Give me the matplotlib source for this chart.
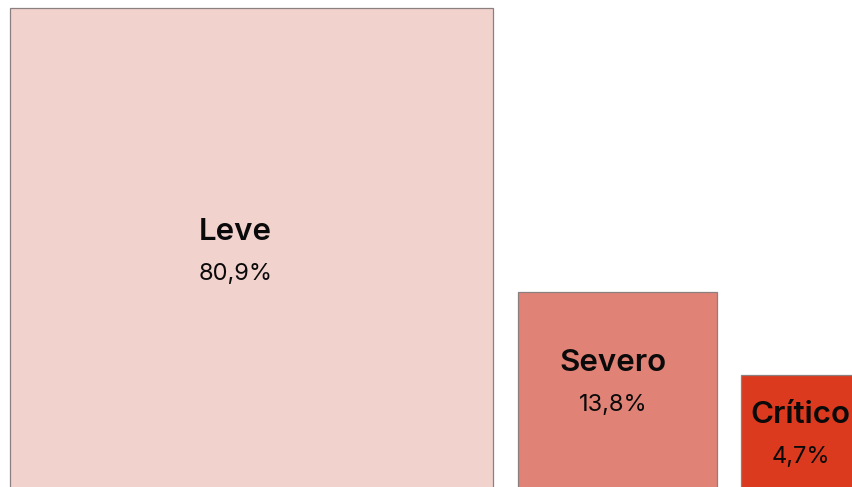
import numpy as np
import matplotlib
matplotlib.use("Agg")
import matplotlib.pyplot as plt
from matplotlib.patches import Rectangle

categories = ["Leve", "Severo", "Crítico"]
shares = [80.9, 13.8, 4.7]
share_labels = ["80,9%", "13,8%", "4,7%"]
colors = ["#F2D2CD", "#E18277", "#DB3A1E"]

W, H = 852, 487
px_per_unit = 53.7  # pixels per sqrt(percent)
left_pad = 10 / px_per_unit
gap = 24.5 / px_per_unit
below = 4 / px_per_unit
label_dx = [-0.3, -0.07, 0.02]
label_dy = [-0.05, 0.14, -0.05]

fig = plt.figure(figsize=(W / 100, H / 100), dpi=100)
ax = fig.add_axes([0, 0, 1, 1])
ax.set_xlim(0, W / px_per_unit)
ax.set_ylim(below, H / px_per_unit + below)
ax.axis("off")

x = left_pad
for cat, p, lab, c, dx, dy in zip(categories, shares, share_labels, colors,
                                  label_dx, label_dy):
    side = np.sqrt(p)
    ax.add_patch(Rectangle((x, 0), side, side, facecolor=c,
                           edgecolor="#8c7f80", linewidth=0.9))
    cx, cy = x + side / 2 + dx, side / 2 + dy
    ax.text(cx, cy + 0.38, cat, ha="center", va="center",
            fontsize=22.5, fontweight="semibold", family="Inter", color="#0a0a0a")
    ax.text(cx, cy - 0.4, lab, ha="center", va="center",
            fontsize=17, family="Inter", color="#0a0a0a")
    x += side + gap

fig.savefig("out.png", dpi=100)
